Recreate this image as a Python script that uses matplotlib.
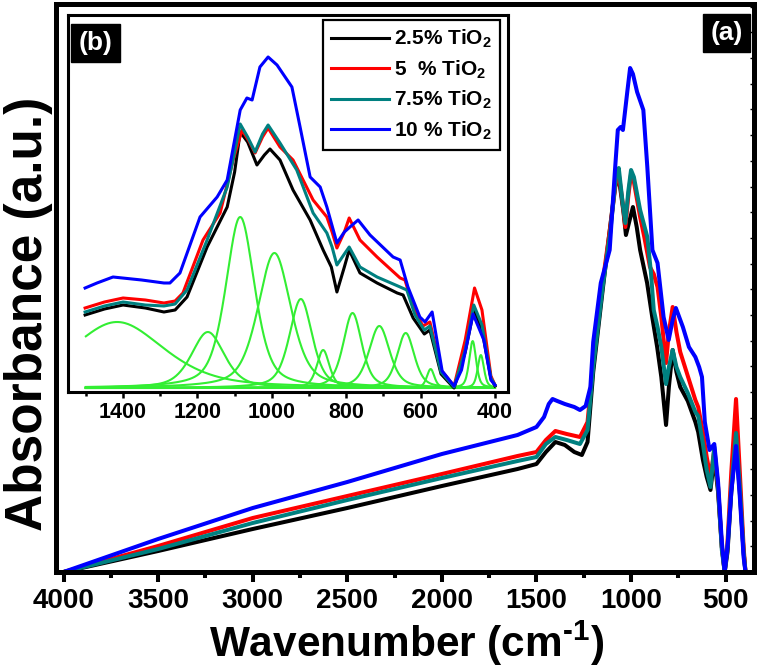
import numpy as np
import matplotlib
matplotlib.use('Agg')
import matplotlib.pyplot as plt
from matplotlib.ticker import MultipleLocator
from matplotlib import font_manager

# ---------------- data ----------------
labels = ['2.5% TiO$_2$', '5  % TiO$_2$', '7.5% TiO$_2$', '10 % TiO$_2$']
colors = ['#000000', '#ff0000', '#008080', '#0000ff']

# main panel (a): wavenumber (cm-1) / absorbance (a.u.)
black_wn = [4000, 3500, 3000, 2500, 2000, 1600, 1500, 1450, 1400, 1350, 1300, 1260, 1230, 1200, 1150,
            1120, 1085, 1065, 1040, 1027, 1010, 990, 970, 952, 915, 888, 862, 840, 815, 800, 780,
            760, 740, 700, 660, 645, 620, 600, 580, 560, 540, 520, 505, 490, 470, 445, 425, 405, 395]
black_ab = [0.00, 0.21, 0.43, 0.64, 0.86, 1.03, 1.08, 1.20, 1.30, 1.27, 1.20, 1.17, 1.30, 2.00, 2.82,
            3.30, 3.85, 3.95, 3.60, 3.37, 3.50, 3.65, 3.45, 3.22, 2.89, 2.55, 2.25, 1.95, 1.47, 1.85, 2.22,
            2.00, 1.85, 1.71, 1.50, 1.40, 1.12, 0.95, 0.82, 1.15, 0.80, 0.25, 0.00, 0.20, 0.80, 1.32, 0.80, 0.20, 0.00]

red_wn = [4000, 3500, 3000, 2500, 2000, 1600, 1500, 1450, 1400, 1340, 1270, 1230, 1200, 1150, 1110,
          1080, 1065, 1045, 1030, 1015, 1000, 985, 952, 930, 900, 880, 860, 840, 815, 800, 780,
          760, 740, 700, 660, 645, 620, 600, 580, 560, 540, 520, 505, 490, 470, 445, 425, 405, 395]
red_ab = [0.00, 0.26, 0.54, 0.76, 0.98, 1.16, 1.20, 1.32, 1.41, 1.38, 1.35, 1.50, 2.10, 2.90, 3.45,
          3.90, 3.98, 3.70, 3.45, 3.75, 3.98, 3.90, 3.55, 3.35, 3.05, 2.98, 2.85, 2.55, 2.09, 2.40, 2.65,
          2.40, 2.20, 1.96, 1.72, 1.65, 1.40, 1.15, 0.95, 1.22, 0.85, 0.25, 0.00, 0.30, 1.00, 1.73, 1.00, 0.25, 0.00]

teal_wn = [4000, 3500, 3000, 2500, 2000, 1600, 1500, 1450, 1400, 1340, 1270, 1230, 1200, 1150, 1110,
           1080, 1065, 1045, 1030, 1015, 1000, 985, 952, 914, 895, 880, 860, 840, 815, 800, 780,
           760, 740, 700, 660, 645, 620, 600, 580, 560, 540, 520, 505, 490, 470, 445, 425, 405, 395]
teal_ab = [0.00, 0.23, 0.49, 0.72, 0.94, 1.11, 1.15, 1.28, 1.35, 1.32, 1.28, 1.42, 2.05, 2.85, 3.40,
           3.95, 4.04, 3.70, 3.49, 3.80, 4.02, 3.95, 3.62, 3.35, 3.00, 2.62, 2.45, 2.25, 1.88, 2.05, 2.22,
           2.05, 1.95, 1.79, 1.60, 1.56, 1.28, 1.02, 0.85, 1.25, 0.85, 0.22, 0.00, 0.25, 0.85, 1.39, 0.85, 0.20, 0.00]

blue_wn = [4000, 3500, 3000, 2500, 2000, 1600, 1500, 1460, 1435, 1415, 1390, 1350, 1300, 1270, 1240,
           1215, 1200, 1160, 1113, 1086, 1070, 1055, 1043, 1020, 1005, 990, 968, 935, 914, 887, 860,
           828, 801, 780, 763, 726, 694, 660, 640, 625, 610, 585, 560, 540, 520, 505, 490, 470, 445,
           425, 405, 395]
blue_ab = [0.00, 0.33, 0.64, 0.90, 1.18, 1.37, 1.45, 1.55, 1.68, 1.73, 1.71, 1.68, 1.65, 1.62, 1.66,
           1.85, 2.30, 2.89, 3.22, 3.99, 4.42, 4.45, 4.42, 4.80, 5.04, 4.98, 4.80, 4.62, 4.05, 3.22, 3.09,
           2.55, 2.32, 2.52, 2.64, 2.45, 2.25, 2.15, 2.05, 1.95, 1.50, 1.22, 1.28, 0.90, 0.30, 0.00, 0.25,
           0.80, 1.26, 0.75, 0.15, 0.00]

# inset (b): 1500-400 cm-1
in_black_wn = [1502, 1450, 1400, 1340, 1290, 1260, 1228, 1174, 1120, 1100, 1085, 1065, 1040, 1020, 1005,
               978, 943, 897, 862, 840, 825, 805, 792, 763, 717, 663, 647, 620, 590, 575, 545, 510,
               480, 457, 435, 411, 400]
in_black_ab = [0.77, 0.83, 0.87, 0.84, 0.80, 0.82, 0.95, 1.45, 1.85, 2.20, 2.60, 2.50, 2.27, 2.37, 2.43,
               2.32, 2.02, 1.72, 1.42, 1.25, 1.00, 1.25, 1.42, 1.19, 1.09, 0.99, 0.97, 0.74, 0.58, 0.62,
               0.18, 0.04, 0.40, 0.82, 0.62, 0.14, 0.06]

in_red_wn = [1502, 1450, 1400, 1340, 1290, 1260, 1239, 1185, 1139, 1104, 1080, 1060, 1045, 1025, 1010,
             978, 943, 889, 852, 838, 825, 805, 792, 763, 717, 655, 642, 620, 594, 575, 545, 510,
             480, 455, 435, 411, 400]
in_red_ab = [0.84, 0.90, 0.94, 0.92, 0.89, 0.91, 0.99, 1.52, 1.79, 2.32, 2.62, 2.50, 2.39, 2.55, 2.64,
             2.45, 2.32, 1.92, 1.75, 1.60, 1.44, 1.60, 1.74, 1.52, 1.35, 1.14, 1.12, 0.85, 0.66, 0.70,
             0.22, 0.06, 0.52, 1.04, 0.82, 0.16, 0.07]

in_teal_wn = [1502, 1450, 1400, 1340, 1290, 1260, 1228, 1174, 1120, 1100, 1085, 1065, 1045, 1025, 1010,
              978, 933, 889, 852, 838, 825, 805, 792, 763, 717, 655, 637, 615, 590, 575, 545, 510,
              480, 457, 435, 411, 400]
in_teal_ab = [0.80, 0.86, 0.90, 0.87, 0.86, 0.88, 1.02, 1.52, 2.05, 2.40, 2.68, 2.55, 2.40, 2.58, 2.67,
              2.49, 2.22, 1.79, 1.59, 1.45, 1.27, 1.38, 1.45, 1.25, 1.15, 1.05, 1.02, 0.77, 0.62, 0.66,
              0.20, 0.05, 0.42, 0.87, 0.67, 0.14, 0.07]

in_blue_wn = [1502, 1470, 1427, 1350, 1290, 1274, 1247, 1193, 1147, 1120, 1085, 1067, 1053, 1032, 1010,
              986, 946, 924, 897, 870, 852, 825, 805, 790, 768, 736, 674, 655, 634, 602, 588, 569,
              542, 510, 490, 459, 430, 411, 400]
in_blue_ab = [1.04, 1.09, 1.15, 1.12, 1.09, 1.09, 1.19, 1.75, 1.95, 2.12, 2.82, 2.94, 2.92, 3.25, 3.35,
              3.27, 3.05, 2.65, 2.15, 2.05, 1.85, 1.49, 1.60, 1.65, 1.72, 1.57, 1.35, 1.32, 1.05, 0.75,
              0.70, 0.80, 0.21, 0.06, 0.22, 0.78, 0.52, 0.12, 0.07]

# fitted components in the inset (green): centre, height, FWHM
fit_center = [1416, 1172, 1085, 993, 922, 862, 783, 711, 640, 573, 460, 438]
fit_height = [0.66, 0.56, 1.71, 1.35, 0.89, 0.38, 0.75, 0.62, 0.55, 0.19, 0.47, 0.33]
fit_fwhm = [300, 105, 92, 105, 72, 40, 59, 66, 55, 24, 22, 20]
fit_baseline = 0.04

# ---------------- style ----------------
plt.rcParams['font.family'] = ['Liberation Sans', 'DejaVu Sans']
plt.rcParams['font.weight'] = 'bold'
plt.rcParams['mathtext.fontset'] = 'custom'
plt.rcParams['mathtext.rm'] = 'Liberation Sans:bold'
plt.rcParams['mathtext.bf'] = 'Liberation Sans:bold'
plt.rcParams['mathtext.it'] = 'Liberation Sans:bold'
plt.rcParams['mathtext.default'] = 'bf'

_names = {f.name for f in font_manager.fontManager.ttflist}
if 'Liberation Sans Narrow' in _names:
    narrow_family = ['Liberation Sans Narrow', 'Liberation Sans', 'DejaVu Sans']
    legend_size, inset_tick_size = 17.5, 17.5
else:
    narrow_family = ['Liberation Sans', 'DejaVu Sans']
    legend_size, inset_tick_size = 15.0, 15.5

W, H = 762, 670
fig = plt.figure(figsize=(W / 100, H / 100), dpi=100)

# ---------------- main axes ----------------
ax = fig.add_axes([56 / W, 1 - 572 / H, (754 - 56) / W, 568.5 / H])
series = [(black_wn, black_ab), (red_wn, red_ab), (teal_wn, teal_ab), (blue_wn, blue_ab)]
for (x, y), c in zip(series, colors):
    ax.plot(x, y, color=c, lw=2.9, solid_joinstyle='round', solid_capstyle='round')
ax.set_xlim(4040, 350)
ax.set_ylim(0, 5.685)
for s in ax.spines.values():
    s.set_linewidth(3.6)
ax.xaxis.set_major_locator(MultipleLocator(500))
ax.xaxis.set_minor_locator(MultipleLocator(250))
ax.tick_params(axis='x', which='major', direction='out', length=7.2, width=2.9,
               labelsize=20, pad=4)
ax.tick_params(axis='x', which='minor', direction='out', length=4, width=2.9)
ax.yaxis.set_major_locator(MultipleLocator(0.257))
ax.tick_params(axis='y', which='major', left=False, right=True, direction='in',
               length=3, width=1.0, labelleft=False, labelright=False)
for lab in ax.get_xticklabels():
    lab.set_fontweight('bold')
ax.set_xlabel(r'Wavenumber (cm$^{\text{-1}}$)', fontsize=30.5, fontweight='bold', va='center')
ax.xaxis.set_label_coords(0.502, -0.125)
ax.set_ylabel('Absorbance (a.u.)', fontsize=37, fontweight='bold', va='center')
ax.yaxis.set_label_coords(-0.040, 0.454)
ax.text(0.9606, 0.948, '(a)', transform=ax.transAxes, color='white', fontsize=19,
        fontweight='bold', ha='center', va='center',
        bbox=dict(boxstyle='square,pad=0.28', facecolor='black', edgecolor='black'))

# ---------------- inset ----------------
ax2 = fig.add_axes([68 / W, 1 - 392 / H, 440 / W, 377 / H])
ax2.set_facecolor('white')
grid = np.linspace(1500, 400, 700)
for c0, h0, w0 in zip(fit_center, fit_height, fit_fwhm):
    d = (grid - c0) / (w0 / 2)
    shape = 0.5 / (1 + d ** 2) + 0.5 * np.exp(-np.log(2) * d ** 2)
    ax2.plot(grid, fit_baseline + h0 * shape, color='#33ee33', lw=1.5, zorder=2)
inset_series = [(in_black_wn, in_black_ab), (in_red_wn, in_red_ab),
                (in_teal_wn, in_teal_ab), (in_blue_wn, in_blue_ab)]
handles = []
for (x, y), c in zip(inset_series, colors):
    ln, = ax2.plot(x, y, color=c, lw=2.2, zorder=3, solid_joinstyle='round')
    handles.append(ln)
ax2.set_xlim(1548, 365)
ax2.set_ylim(0, 3.77)
for s in ax2.spines.values():
    s.set_linewidth(2.2)
ax2.xaxis.set_major_locator(MultipleLocator(200))
ax2.xaxis.set_minor_locator(MultipleLocator(100))
ax2.tick_params(axis='x', which='major', direction='out', length=4.5, width=1.8,
                labelsize=inset_tick_size, pad=2.5)
ax2.tick_params(axis='x', which='minor', direction='out', length=3, width=1.8)
ax2.tick_params(axis='y', left=False, labelleft=False)
for lab in ax2.get_xticklabels():
    lab.set_fontweight('bold')
    lab.set_family(narrow_family)
ax2.text(0.0625, 0.926, '(b)', transform=ax2.transAxes, color='white', fontsize=19,
         fontweight='bold', ha='center', va='center',
         bbox=dict(boxstyle='square,pad=0.28', facecolor='black', edgecolor='black'))
leg = ax2.legend(handles, labels, loc='upper right', bbox_to_anchor=(0.982, 0.988),
                 borderaxespad=0, frameon=True, fancybox=False, edgecolor='black',
                 framealpha=1, prop={'size': legend_size, 'weight': 'bold', 'family': narrow_family},
                 handlelength=2.75, handletextpad=0.25, labelspacing=0.4,
                 borderpad=0.4)
leg.get_frame().set_linewidth(1.6)

fig.savefig('out.png', dpi=100)
